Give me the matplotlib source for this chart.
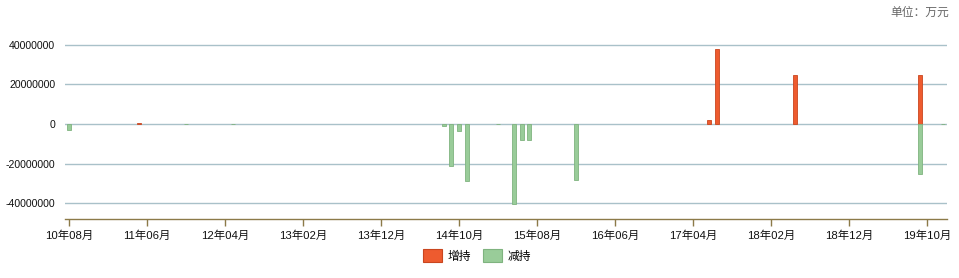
import matplotlib
matplotlib.use("Agg")
import matplotlib.pyplot as plt
from matplotlib.patches import Patch
import numpy as np

# Monthly categories 10年08月 .. 19年12月
months = []
y, m = 10, 8
while (y, m) <= (19, 12):
    months.append(f"{y:02d}年{m:02d}月")
    m += 1
    if m > 12:
        m = 1
        y += 1

# Net holdings change (万元) per month
increase = {
    "11年05月": 300000,
    "17年06月": 2000000,
    "17年07月": 38000000,
    "18年05月": 24700000,
    "19年09月": 24700000,
}
decrease = {
    "10年08月": -2900000,
    "11年11月": -100000,
    "12年05月": -100000,
    "14年08月": -1200000,
    "14年09月": -21200000,
    "14年10月": -3500000,
    "14年11月": -28800000,
    "15年03月": -100000,
    "15年05月": -40500000,
    "15年06月": -8100000,
    "15年07月": -8100000,
    "16年01月": -28400000,
    "19年09月": -25300000,
    "19年12月": -100000,
}
yticks = [-40000000, -20000000, 0, 20000000, 40000000]
tick_every = 10

inc_vals = np.array([increase.get(k, 0) for k in months], dtype=float)
dec_vals = np.array([decrease.get(k, 0) for k in months], dtype=float)
x = np.arange(len(months))

plt.rcParams["font.family"] = ["Liberation Sans", "Noto Sans CJK SC"]

fig = plt.figure(figsize=(9.59, 2.78), dpi=100)
ax = fig.add_axes([65 / 959, 1 - 219 / 278, 882 / 959, 190 / 278])

red = "#EE5B2F"
red_edge = "#C9461F"
green = "#99CC99"
green_edge = "#7FB37F"

mi = inc_vals != 0
md = dec_vals != 0
ax.bar(x[mi], inc_vals[mi], width=0.5, color=red, edgecolor=red_edge, linewidth=0.6, zorder=3)
ax.bar(x[md], dec_vals[md], width=0.5, color=green, edgecolor=green_edge, linewidth=0.6, zorder=3)

ax.set_xlim(-0.5, len(months) - 0.5)
ax.set_ylim(-48000000, 48000000)

for v in yticks:
    ax.axhline(v, color="#A9C1C9", linewidth=1.0, zorder=1)

ax.set_yticks(yticks)
ax.set_yticklabels([str(v) for v in yticks], fontsize=7.6, color="#111111")
ax.tick_params(axis="y", length=0, pad=7)

xt = x[::tick_every]
ax.set_xticks(xt)
ax.set_xticklabels([months[i] for i in xt], fontsize=8.2, color="#111111")
ax.tick_params(axis="x", length=5, width=1, color="#8C7A48", pad=3)

for side in ["top", "right", "left"]:
    ax.spines[side].set_visible(False)
ax.spines["bottom"].set_color("#8C7A48")
ax.spines["bottom"].set_linewidth(1.0)

fig.text(949 / 959, 1 - 12 / 278, "单位：万元", ha="right", va="center",
         fontsize=8.5, color="#666666", family=["Noto Sans CJK SC"])

handles = [
    Patch(facecolor=red, edgecolor=red_edge, linewidth=0.8, label="增持"),
    Patch(facecolor=green, edgecolor=green_edge, linewidth=0.8, label="减持"),
]
fig.legend(handles=handles, loc="center", bbox_to_anchor=(477 / 959, 1 - 256 / 278),
           ncol=2, frameon=False, handlelength=1.6, handleheight=1.25,
           handletextpad=0.5, columnspacing=1.0,
           prop={"family": ["Noto Sans CJK SC"], "size": 8.5})

fig.savefig("out.png", dpi=100)
